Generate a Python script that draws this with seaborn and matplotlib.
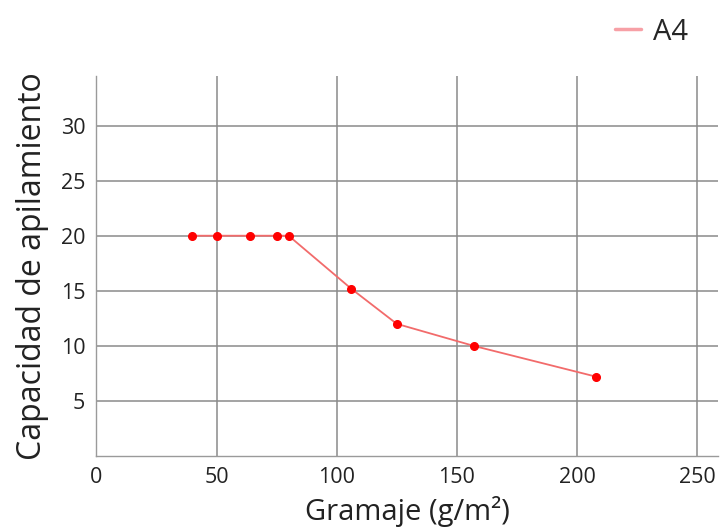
import matplotlib
matplotlib.use("Agg")
import matplotlib.pyplot as plt
import seaborn as sns
import pandas as pd
from matplotlib.lines import Line2D

gramaje = [40, 50, 64, 75, 80, 106, 125, 157, 208]
capacidad = [20, 20, 20, 20, 20, 15.2, 12, 10, 7.2]
series_name = "A4"
x_ticks = [0, 50, 100, 150, 200, 250]
y_ticks = [5, 10, 15, 20, 25, 30]

df = pd.DataFrame({"Gramaje": gramaje, "Capacidad": capacidad, "serie": series_name})

sns.set_theme(style="white")
plt.rcParams['font.family'] = ['Open Sans', 'DejaVu Sans']

fig = plt.figure(figsize=(7.2, 5.31), dpi=100)
ax = fig.add_axes([0.1338, 0.1412, 0.8632, 0.7157])

sns.lineplot(data=df, x="Gramaje", y="Capacidad", hue="serie", palette=["#f26b6b"],
             linewidth=1.3, ax=ax, legend=False)
ax.plot(df["Gramaje"], df["Capacidad"], linestyle="none", marker="o",
        markersize=5.5, color="#ff0000")

ax.set_xlim(0, 258.6)
ax.set_ylim(0, 34.5)
ax.set_xticks(x_ticks)
ax.set_yticks(y_ticks)
ax.grid(True, color="#8a8a8a", linewidth=1.1)
ax.set_axisbelow(True)
for s in ["top", "right"]:
    ax.spines[s].set_visible(False)
for s in ["left", "bottom"]:
    ax.spines[s].set_color("#9a9a9a")
    ax.spines[s].set_linewidth(1.0)
ax.tick_params(axis="both", length=0, labelsize=15.5, colors="#222222", pad=8)
ax.set_xlabel("Gramaje (g/m²)", fontsize=21, color="#222222", labelpad=6)
ax.set_ylabel("Capacidad de apilamiento", fontsize=23, color="#222222", labelpad=8)

handle = Line2D([], [], color="#f7a0a6", linewidth=2.5)
fig.legend([handle], [series_name], loc="upper right", bbox_to_anchor=(0.98, 1.0),
           borderaxespad=0.2, frameon=False, fontsize=21, handlelength=0.9,
           handletextpad=0.4)

fig.savefig("out.png", dpi=100)
